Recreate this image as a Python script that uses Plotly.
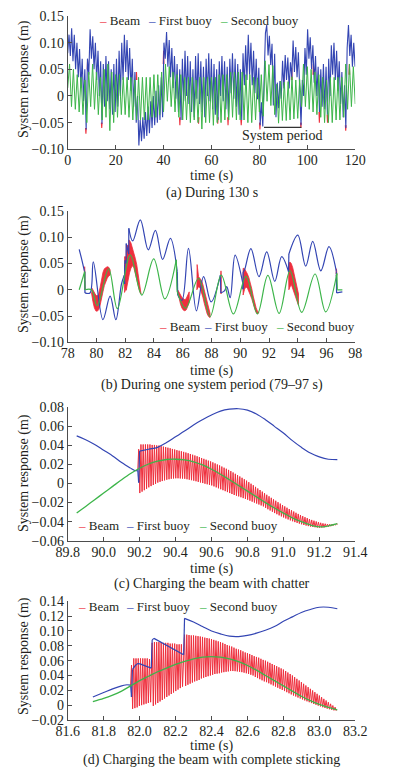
import numpy as np
import plotly.graph_objects as go

# =========================== DATA ===========================
# ---- (a) During 130 s : samples at alternating peaks / troughs ----
GREEN_A_T0, GREEN_A_DT = 0.78, 0.8       # second buoy sample times: 0.78, 1.58, ...
green_a_first = 0.015                     # second buoy value at t = 0
green_a = [
    0.060, -0.020, 0.050, -0.025, 0.040, -0.030, 0.035, -0.035, 0.030, -0.050,
    0.045, -0.020, 0.060, -0.025, 0.045, -0.035, 0.035, -0.045, 0.050, -0.040,
    0.060, -0.065, 0.045, -0.050, 0.040, -0.040, 0.040, -0.035, 0.035, -0.035,
    0.035, -0.040, 0.035, -0.045, 0.030, -0.045, 0.035, -0.045, 0.035, -0.045,
    0.035, -0.045, 0.035, -0.040, 0.040, -0.040, 0.040, -0.035, 0.045, -0.030,
    0.060, -0.010, 0.055, -0.020, 0.045, -0.030, 0.040, -0.040, 0.040, -0.045,
    0.035, -0.045, 0.035, -0.050, 0.035, -0.045, 0.030, -0.050, 0.035, -0.062,
    0.035, -0.050, 0.035, -0.050, 0.035, -0.055, 0.035, -0.050, 0.040, -0.050,
    0.040, -0.045, 0.040, -0.045, 0.045, -0.040, 0.045, -0.045, 0.045, -0.045,
    0.045, -0.045, 0.040, -0.050, 0.040, -0.050, 0.035, -0.045, 0.034, -0.030,
    0.040, -0.038, 0.066, -0.010, 0.059, -0.018, 0.057, -0.035, 0.022, -0.051,
    0.028, -0.046, 0.026, -0.046, 0.027, -0.045, 0.036, -0.043, 0.030, -0.042,
    0.031, -0.020, 0.060, -0.020, 0.055, -0.025, 0.050, -0.030, 0.045, -0.035,
    0.040, -0.040, 0.035, -0.050, 0.030, -0.050, 0.035, -0.050, 0.035, -0.045,
    0.035, -0.045, 0.035, -0.040, 0.060, -0.025, 0.060, -0.020, 0.055, -0.015,
]
BLUE_A_DT = 0.55                          # first buoy sample times: 0, 0.55, 1.10, ...
blue_a = [
    0.080, 0.115, 0.075, 0.127, 0.065, 0.115, 0.050, 0.100, 0.035, 0.088,
    0.015, 0.070, -0.010, 0.050, -0.063, 0.070, 0.040, 0.125, 0.070, 0.112,
    0.050, 0.100, 0.030, 0.085, 0.000, 0.065, -0.052, 0.060, -0.020, 0.075,
    -0.010, 0.065, -0.025, 0.050, -0.035, 0.060, -0.030, 0.070, -0.020, 0.085,
    0.000, 0.100, 0.030, 0.115, 0.045, 0.105, 0.030, 0.090, 0.010, 0.070,
    -0.020, 0.045, -0.050, 0.000, -0.093, -0.045, -0.085, -0.040, -0.080, -0.030,
    -0.075, -0.020, -0.070, -0.010, -0.060, 0.000, -0.055, 0.010, -0.050, 0.020,
    -0.045, 0.035, -0.040, 0.100, 0.070, 0.120, 0.055, 0.105, 0.035, 0.090,
    0.015, 0.075, -0.005, 0.060, -0.030, 0.050, -0.045, 0.070, -0.010, 0.085,
    0.000, 0.075, -0.015, 0.065, -0.030, 0.050, -0.040, 0.075, -0.005, 0.080,
    -0.015, 0.065, -0.030, 0.055, -0.040, 0.070, 0.000, 0.080, -0.010, 0.070,
    -0.025, 0.060, -0.035, 0.050, -0.045, 0.065, 0.000, 0.075, -0.010, 0.065,
    -0.025, 0.055, -0.040, 0.070, 0.005, 0.080, -0.005, 0.070, -0.020, 0.060,
    -0.035, 0.050, -0.045, 0.080, 0.020, 0.095, 0.030, 0.115, 0.040, 0.100,
    0.020, 0.085, 0.005, 0.070, -0.006, 0.053, -0.055, -0.012, -0.057, 0.030,
    0.118, 0.133, 0.076, 0.113, 0.058, 0.098, -0.018, 0.079, -0.040, 0.025,
    -0.023, 0.028, -0.005, 0.066, 0.014, 0.077, 0.030, 0.072, 0.014, 0.063,
    0.035, 0.104, 0.045, 0.092, 0.035, 0.082, -0.006, -0.055, 0.030, 0.000,
    0.090, 0.040, 0.125, 0.070, 0.110, 0.050, 0.095, 0.025, 0.075, 0.000,
    0.055, -0.030, 0.050, -0.020, 0.060, -0.025, 0.055, -0.035, 0.070, 0.000,
    0.095, 0.040, 0.100, 0.030, 0.085, 0.010, 0.065, -0.015, 0.045, -0.040,
    0.020, -0.060, 0.090, 0.133, 0.075, 0.115, 0.055, 0.100, 0.055,
]
# beam excursions visible beyond the buoy curves: time, base value, tip value
beam_a_t    = [7.6, 8.3, 14.2, 28.7, 40.0, 46.8, 54.6, 62.6, 66.9, 72.4, 80.2, 90.2, 93.5, 97.3, 102.5, 105.0, 108.4, 116.0, 117.5]
beam_a_base = [-0.060, 0.050, -0.050, 0.030, 0.060, -0.040, -0.040, -0.040, -0.040, -0.045, -0.050, 0.020, 0.030, -0.050, 0.040, -0.030, -0.035, -0.055, 0.040]
beam_a_tip  = [-0.071, 0.068, -0.060, 0.045, 0.085, -0.055, -0.052, -0.052, -0.055, -0.055, -0.063, 0.040, 0.052, -0.060, 0.060, -0.050, -0.050, -0.065, 0.060]

# ---- (b) During one system period (79-97 s) ----
green_b_t = [78.8, 79.18, 79.2, 79.65, 80.05, 80.85, 81.45, 82.35, 83.15, 83.98, 84.75, 85.55, 85.6, 86.2,
             87.1, 87.9, 88.68, 89.52, 90.4, 91.19, 91.92, 92.7, 93.46, 94.27, 95.2, 95.94, 96.72, 96.75, 97.1]
green_b_v = [0.0, 0.0345, 0.0, 0.0, -0.030, 0.040, -0.036, 0.066, -0.010, 0.059, -0.0175, 0.057, -0.002, -0.035,
             0.022, -0.051, 0.028, -0.046, 0.0255, -0.0458, 0.0275, -0.045, 0.036, -0.043, 0.030, -0.042, 0.031, 0.0, 0.0]
blue_b_t = [78.8, 79.0, 79.15, 79.19, 79.2, 79.55, 79.78, 80.45, 80.95, 81.35, 81.74, 81.93, 81.955, 81.96,
            81.99, 82.065, 82.07, 82.245, 82.25, 82.52, 83.05, 83.6, 84.1, 84.6, 85.14, 85.62, 85.65, 85.95,
            86.4, 86.95, 87.45, 87.97, 88.62, 88.65, 88.9, 89.06, 89.3, 89.64, 90.17, 90.19, 90.2, 90.3,
            90.74, 91.3, 91.84, 92.4, 92.88, 93.36, 93.38, 94.0, 94.55, 95.04, 95.6, 96.17, 96.68, 96.7, 97.1]
blue_b_v = [0.077, 0.055, 0.037, 0.034, -0.006, -0.006, 0.053, -0.057, -0.012, -0.057, 0.011, 0.0275, 0.011, 0.048,
            0.056, 0.050, 0.088, 0.068, 0.117, 0.093, 0.133, 0.076, 0.113, 0.058, 0.098, 0.034, -0.010, -0.020,
            0.079, -0.040, 0.025, -0.023, 0.028, -0.006, -0.002, 0.006, -0.015, 0.066, 0.0135, 0.001, 0.034, 0.038,
            0.0785, 0.025, 0.072, 0.016, 0.063, 0.034, 0.068, 0.104, 0.045, 0.092, 0.036, 0.082, 0.035, -0.006, -0.004]
# beam chatter bands: (times, upper envelope, lower envelope)
beam_b_bands = [
    ([79.15, 79.18, 79.2], [0.033, 0.044, 0.034], [0.030, 0.030, 0.0]),
    ([79.65, 79.75, 79.85, 79.95, 80.05, 80.15, 80.25, 80.35, 80.45, 80.55, 80.65, 80.75, 80.85, 80.95],
     [0.005, 0.0, -0.006, -0.010, -0.012, -0.008, 0.004, 0.020, 0.033, 0.040, 0.043, 0.044, 0.043, 0.038],
     [-0.005, -0.022, -0.034, -0.040, -0.041, -0.038, -0.030, -0.018, -0.004, 0.008, 0.016, 0.022, 0.026, 0.028]),
    ([81.95, 81.955, 82.065, 82.07, 82.245, 82.25, 82.3, 82.4, 82.5, 82.6, 82.7, 82.8, 82.9, 83.0, 83.1],
     [0.027, 0.063, 0.063, 0.085, 0.084, 0.095, 0.094, 0.089, 0.080, 0.070, 0.060, 0.048, 0.031, 0.013, -0.005],
     [0.027, -0.005, 0.004, -0.001, 0.025, 0.026, 0.032, 0.041, 0.046, 0.042, 0.031, 0.019, 0.007, -0.003, -0.008]),
    ([85.65, 85.75, 85.85, 85.95, 86.05, 86.15, 86.25, 86.35, 86.45],
     [0.0, -0.004, -0.010, -0.015, -0.018, -0.019, -0.016, -0.010, -0.004],
     [-0.004, -0.016, -0.028, -0.035, -0.039, -0.040, -0.038, -0.032, -0.024]),
    ([86.98, 87.0, 87.1, 87.2, 87.3, 87.4, 87.5, 87.6, 87.7, 87.8, 87.9],
     [0.0, 0.048, 0.025, 0.022, 0.018, 0.010, 0.0, -0.012, -0.025, -0.035, -0.045],
     [0.0, 0.0, 0.006, 0.004, -0.004, -0.014, -0.026, -0.037, -0.046, -0.051, -0.053]),
    ([88.64, 88.66, 88.68], [0.028, 0.036, 0.028], [0.020, -0.008, 0.020]),
    ([90.19, 90.2, 90.3, 90.4, 90.5, 90.6, 90.7, 90.8, 90.9, 91.0, 91.1, 91.2, 91.3],
     [0.0145, 0.041, 0.040, 0.0355, 0.030, 0.023, 0.014, 0.002, -0.012, -0.0243, -0.0342, -0.0412, -0.0424],
     [0.0145, -0.010, 0.001, 0.0055, 0.003, -0.002, -0.010, -0.017, -0.025, -0.0356, -0.0428, -0.0463, -0.0427]),
    ([93.36, 93.38, 93.45, 93.55, 93.65, 93.75, 93.85, 93.95, 94.05],
     [0.034, 0.050, 0.053, 0.050, 0.042, 0.030, 0.018, 0.005, -0.008],
     [0.034, 0.0, 0.005, 0.010, 0.006, -0.004, -0.014, -0.022, -0.030]),
    ([96.66, 96.69, 96.72], [0.030, 0.040, 0.030], [0.028, 0.025, 0.030]),
]

# ---- (c) Charging the beam with chatter ----
green_c_t = [89.85, 89.9, 89.95, 90.0, 90.05, 90.1, 90.15, 90.2, 90.25, 90.3, 90.35, 90.4, 90.45, 90.5, 90.55,
             90.6, 90.65, 90.7, 90.75, 90.8, 90.85, 90.9, 90.95, 91.0, 91.05, 91.1, 91.15, 91.2, 91.25, 91.3]
green_c_v = [-0.031, -0.024, -0.017, -0.010, -0.003, 0.004, 0.0105, 0.016, 0.0205, 0.0235, 0.0252, 0.0255, 0.0248,
             0.0228, 0.0195, 0.015, 0.0098, 0.004, -0.002, -0.008, -0.014, -0.020, -0.0257, -0.031, -0.036, -0.040,
             -0.0435, -0.0455, -0.0445, -0.0422]
blue_c_t = [89.85, 89.9, 89.95, 90.0, 90.05, 90.1, 90.15, 90.175, 90.19, 90.195, 90.2, 90.25, 90.3, 90.35, 90.4,
            90.45, 90.5, 90.55, 90.6, 90.65, 90.7, 90.75, 90.8, 90.85, 90.9, 90.95, 91.0, 91.05, 91.1, 91.15,
            91.2, 91.25, 91.3]
blue_c_v = [0.050, 0.046, 0.041, 0.035, 0.029, 0.022, 0.016, 0.0135, 0.0135, 0.001, 0.034, 0.036, 0.038, 0.043,
            0.049, 0.055, 0.0615, 0.067, 0.072, 0.076, 0.078, 0.0785, 0.077, 0.073, 0.067, 0.060, 0.053, 0.045,
            0.038, 0.032, 0.028, 0.0255, 0.025]
BEAM_C_START, BEAM_C_PERIOD = 90.195, 0.0125
beam_c_start_value = 0.0145
beam_c_top = [
    0.036, 0.041, 0.041, 0.041, 0.041, 0.041, 0.0405, 0.0405, 0.0400, 0.0398,
    0.0392, 0.0387, 0.0382, 0.0376, 0.0370, 0.0363, 0.0357, 0.0350, 0.0344, 0.0338,
    0.0332, 0.0325, 0.0318, 0.0310, 0.0302, 0.0294, 0.0286, 0.0277, 0.0268, 0.0259,
    0.0250, 0.0240, 0.0232, 0.0222, 0.0211, 0.0200, 0.0190, 0.0178, 0.0166, 0.0155,
    0.0143, 0.0130, 0.0116, 0.0102, 0.0088, 0.0074, 0.0060, 0.0045, 0.0030, 0.0014,
    -0.0002, -0.0018, -0.0035, -0.0052, -0.0068, -0.0085, -0.0102, -0.0118, -0.0134, -0.0150,
    -0.0166, -0.0181, -0.0196, -0.0211, -0.0226, -0.0240, -0.0254, -0.0268, -0.0281, -0.0294,
    -0.0307, -0.0319, -0.0331, -0.0342, -0.0353, -0.0363, -0.0373, -0.0382, -0.0390, -0.0398,
    -0.0405, -0.0412, -0.0418, -0.0422, -0.0426, -0.0428, -0.0428, -0.0427, -0.0424,
]
beam_c_bottom = [
    -0.0100, -0.0085, -0.0070, -0.0055, -0.0040, -0.0027, -0.0015, -0.0003, 0.0010, 0.0018,
    0.0026, 0.0033, 0.0040, 0.0045, 0.0050, 0.0053, 0.0055, 0.0055, 0.0053, 0.0052,
    0.0050, 0.0045, 0.0040, 0.0035, 0.0030, 0.0024, 0.0017, 0.0011, 0.0005, -0.0002,
    -0.0008, -0.0014, -0.0020, -0.0030, -0.0040, -0.0050, -0.0060, -0.0070, -0.0080, -0.0090,
    -0.0100, -0.0110, -0.0120, -0.0128, -0.0135, -0.0144, -0.0153, -0.0162, -0.0170, -0.0180,
    -0.0190, -0.0200, -0.0210, -0.0220, -0.0230, -0.0240, -0.0255, -0.0270, -0.0283, -0.0296,
    -0.0310, -0.0322, -0.0334, -0.0345, -0.0356, -0.0367, -0.0377, -0.0387, -0.0396, -0.0405,
    -0.0413, -0.0421, -0.0428, -0.0435, -0.0441, -0.0447, -0.0452, -0.0456, -0.0459, -0.0462,
    -0.0463, -0.0462, -0.0460, -0.0457, -0.0453, -0.0448, -0.0442, -0.0435, -0.0427,
]

# ---- (d) Charging the beam with complete sticking ----
green_d_t = [81.74, 81.8, 81.85, 81.9, 81.95, 82.0, 82.05, 82.1, 82.15, 82.2, 82.25, 82.3, 82.35, 82.4, 82.45,
             82.5, 82.55, 82.6, 82.65, 82.7, 82.75, 82.8, 82.85, 82.9, 82.95, 83.0, 83.05, 83.1]
green_d_v = [0.0047, 0.009, 0.0135, 0.019, 0.026, 0.033, 0.039, 0.045, 0.050, 0.055, 0.059, 0.0625, 0.0648, 0.0655,
             0.0648, 0.0625, 0.0588, 0.0535, 0.0472, 0.040, 0.033, 0.026, 0.019, 0.012, 0.006, 0.001, -0.003, -0.0062]
blue_d_t = [81.74, 81.8, 81.85, 81.9, 81.93, 81.95, 81.955, 81.96, 81.99, 82.02, 82.065, 82.07, 82.08, 82.245,
            82.25, 82.3, 82.35, 82.4, 82.45, 82.5, 82.55, 82.6, 82.65, 82.7, 82.75, 82.8, 82.85, 82.9, 82.95,
            83.0, 83.05, 83.1]
blue_d_v = [0.011, 0.017, 0.022, 0.026, 0.0275, 0.027, 0.011, 0.048, 0.056, 0.054, 0.050, 0.088, 0.090, 0.068,
            0.117, 0.112, 0.106, 0.100, 0.096, 0.093, 0.0925, 0.094, 0.097, 0.101, 0.106, 0.113, 0.119, 0.125,
            0.129, 0.132, 0.132, 0.130]
BEAM_D_PERIOD = 0.0125
beam_d_start = (81.95, 0.027)
beam_d_group_starts = [81.955, 82.07, 82.25]
beam_d_tops = [
    [0.054, 0.063, 0.063, 0.063, 0.063, 0.063, 0.063, 0.063, 0.062],
    [0.084, 0.085, 0.085, 0.085, 0.085, 0.084, 0.084, 0.084, 0.083, 0.083, 0.083, 0.082, 0.082, 0.082],
    [0.095, 0.095, 0.0945, 0.094, 0.094, 0.0935, 0.093, 0.0925, 0.092, 0.091,
     0.0905, 0.0898, 0.089, 0.088, 0.087, 0.086, 0.085, 0.084, 0.0825, 0.081,
     0.080, 0.079, 0.0775, 0.076, 0.075, 0.074, 0.0725, 0.071, 0.070, 0.069,
     0.0675, 0.066, 0.065, 0.064, 0.0625, 0.061, 0.060, 0.0585, 0.057, 0.0555,
     0.054, 0.0525, 0.051, 0.0495, 0.048, 0.046, 0.044, 0.042, 0.040, 0.0378,
     0.0355, 0.0333, 0.031, 0.0288, 0.0265, 0.0243, 0.022, 0.0198, 0.0175, 0.0153,
     0.013, 0.0108, 0.0085, 0.0063, 0.004, 0.0018, -0.0005, -0.0027],
]
beam_d_bottoms = [
    [-0.005, -0.004, -0.003, -0.001, 0.000, 0.001, 0.002, 0.003, 0.004],
    [-0.001, 0.001, 0.003, 0.005, 0.007, 0.009, 0.011, 0.013, 0.015, 0.017, 0.019, 0.021, 0.023, 0.025],
    [0.026, 0.0275, 0.029, 0.0305, 0.032, 0.033, 0.034, 0.036, 0.037, 0.038,
     0.039, 0.040, 0.041, 0.042, 0.0425, 0.043, 0.044, 0.0445, 0.045, 0.0455,
     0.046, 0.046, 0.0458, 0.0455, 0.045, 0.0445, 0.0438, 0.043, 0.042, 0.041,
     0.040, 0.038, 0.0365, 0.035, 0.0335, 0.032, 0.031, 0.0295, 0.028, 0.0265,
     0.025, 0.0235, 0.022, 0.0205, 0.019, 0.0175, 0.016, 0.0145, 0.013, 0.0117,
     0.0103, 0.009, 0.0077, 0.0064, 0.0052, 0.004, 0.0028, 0.0016, 0.0005, -0.0006,
     -0.0017, -0.0028, -0.0038, -0.0047, -0.0055, -0.0063, -0.007, -0.0076],
]

# ---- axes / labels ----
x_ticks = {
    "a": [0, 20, 40, 60, 80, 100, 120],
    "b": [78, 80, 82, 84, 86, 88, 90, 92, 94, 96, 98],
    "c": [89.8, 90.0, 90.2, 90.4, 90.6, 90.8, 91.0, 91.2, 91.4],
    "d": [81.6, 81.8, 82.0, 82.2, 82.4, 82.6, 82.8, 83.0, 83.2],
}
x_ticktext = {
    "a": ["0", "20", "40", "60", "80", "100", "120"],
    "b": ["78", "80", "82", "84", "86", "88", "90", "92", "94", "96", "98"],
    "c": ["89.8", "90.0", "90.2", "90.4", "90.6", "90.8", "91.0", "91.2", "91.4"],
    "d": ["81.6", "81.8", "82.0", "82.2", "82.4", "82.6", "82.8", "83.0", "83.2"],
}
y_ticks = {
    "a": [-0.10, -0.05, 0, 0.05, 0.10, 0.15],
    "b": [-0.10, -0.05, 0, 0.05, 0.10, 0.15],
    "c": [-0.06, -0.04, -0.02, 0, 0.02, 0.04, 0.06, 0.08],
    "d": [-0.02, 0, 0.02, 0.04, 0.06, 0.08, 0.10, 0.12, 0.14],
}
y_ticktext = {
    "a": ["\u22120.10", "\u22120.05", "0", "0.05", "0.10", "0.15"],
    "b": ["\u22120.10", "\u22120.05", "0", "0.05", "0.10", "0.15"],
    "c": ["\u22120.06", "\u22120.04", "\u22120.02", "0", "0.02", "0.04", "0.06", "0.08"],
    "d": ["\u22120.02", "0", "0.02", "0.04", "0.06", "0.08", "0.10", "0.12", "0.14"],
}
x_ranges = {"a": [0, 120], "b": [78, 98], "c": [89.8, 91.4], "d": [81.6, 83.2]}
y_ranges = {"a": [-0.10, 0.15], "b": [-0.10, 0.15], "c": [-0.06, 0.08], "d": [-0.02, 0.14]}
captions = {
    "a": "(a) During 130 s",
    "b": "(b) During one system period (79\u201397 s)",
    "c": "(c) Charging the beam with chatter",
    "d": "(d) Charging the beam with complete sticking",
}
series_names = ["Beam", "First buoy", "Second buoy"]
y_title = "System response (m)"
x_title = "time (s)"
period_label = "System period"
period_span = (81.9, 97.5, -0.0587)
period_label_y = -0.0744

# =========================== STYLE / LAYOUT ===========================
PAGE_MARGIN = 8                      # default body margin of the html page
W, H = 394 - 2 * PAGE_MARGIN, 775 - 2 * PAGE_MARGIN
RED, BLUE, GREEN = "#ee2f3d", "#3345b3", "#3db54a"
AXC, TXT = "#4d4d4d", "#231f20"
FONT = "Liberation Serif, serif"


def px_x(px):  # window pixel -> paper fraction
    return (px - PAGE_MARGIN) / W


def px_y(py):
    return 1 - (py - PAGE_MARGIN) / H


# pixel geometry of each panel in the window
geom = {
    "a": dict(yt=16.0, yb=149.3, title=175.5, cap=192.5, ytc=79, leg=(20, [97, 146, 218])),
    "b": dict(yt=211.0, yb=342.3, title=370.5, cap=385, ytc=274, leg=(326, [157, 202, 274])),
    "c": dict(yt=407.3, yb=540.7, title=568.5, cap=583.5, ytc=473, leg=(525, [76, 124, 197])),
    "d": dict(yt=601.3, yb=720.0, title=746.0, cap=760.0, ytc=656, leg=(606.7, [76, 124, 197])),
}
X0, X1 = 67.7, 355.3
axid = {"a": "", "b": "2", "c": "3", "d": "4"}

fig = go.Figure()


def line(p, x, y, color, width=1.2, shape="linear", fill=None):
    fig.add_trace(go.Scatter(
        x=x, y=y, mode="lines", xaxis="x" + axid[p], yaxis="y" + axid[p],
        line=dict(color=color, width=width, shape=shape),
        fill=fill, fillcolor=color if fill else None,
        showlegend=False, hoverinfo="skip", connectgaps=False))


def smooth_with_jumps(p, t, v, color, width, jump_dt):
    """Smooth curve; near-vertical jumps (closely spaced samples) drawn straight."""
    sx, sy, jx, jy = [t[0]], [v[0]], [], []
    for i in range(1, len(t)):
        if t[i] - t[i - 1] <= jump_dt:
            sx.append(None); sy.append(None)
            jx += [t[i - 1], t[i], None]; jy += [v[i - 1], v[i], None]
        sx.append(t[i]); sy.append(v[i])
    line(p, jx, jy, color, width)
    line(p, sx, sy, color, width, shape="spline")


# ---- (a) ----
ta_b = [i * BLUE_A_DT for i in range(len(blue_a))]
ta_g = [0.0] + [GREEN_A_T0 + i * GREEN_A_DT for i in range(len(green_a))]
sx, sy = [], []
for t, b, tip in zip(beam_a_t, beam_a_base, beam_a_tip):
    sx += [t - 0.15, t, t + 0.15, None]
    sy += [b, tip, b, None]
line("a", sx, sy, RED, 1.1)
line("a", ta_b, blue_a, BLUE, 1.1)
line("a", ta_g, [green_a_first] + green_a, GREEN, 1.0)

# ---- (b) ----
bx, by = [], []
for tt, up, lo in beam_b_bands:
    bx += list(tt) + list(tt[::-1]) + [None]
    by += list(up) + list(lo[::-1]) + [None]
line("b", bx, by, RED, 0.8, fill="toself")
smooth_with_jumps("b", blue_b_t, blue_b_v, BLUE, 1.2, 0.06)
smooth_with_jumps("b", green_b_t, green_b_v, GREEN, 1.2, 0.06)

# ---- (c) ----
cx, cy = [BEAM_C_START - 0.005], [beam_c_start_value]
for i, (tp, bt) in enumerate(zip(beam_c_top, beam_c_bottom)):
    t0 = BEAM_C_START + i * BEAM_C_PERIOD
    cx += [t0, t0 + BEAM_C_PERIOD / 2]
    cy += [tp, bt]
line("c", cx, cy, RED, 1.0)
smooth_with_jumps("c", blue_c_t, blue_c_v, BLUE, 1.2, 0.03)
line("c", green_c_t, green_c_v, GREEN, 1.3, shape="spline")

# ---- (d) ----
dx, dy = [beam_d_start[0]], [beam_d_start[1]]
for g0, tops, bots in zip(beam_d_group_starts, beam_d_tops, beam_d_bottoms):
    for i, (tp, bt) in enumerate(zip(tops, bots)):
        t0 = g0 + i * BEAM_D_PERIOD
        dx += [t0, t0 + BEAM_D_PERIOD / 2]
        dy += [tp, bt]
line("d", dx, dy, RED, 1.0)
smooth_with_jumps("d", blue_d_t, blue_d_v, BLUE, 1.2, 0.03)
line("d", green_d_t, green_d_v, GREEN, 1.3, shape="spline")

# ---- axes & texts ----
layout = dict(width=W, height=H, margin=dict(l=0, r=0, t=0, b=0), autosize=False,
              paper_bgcolor="white", plot_bgcolor="white", showlegend=False)
annotations, shapes = [], []
xc = px_x((X0 + X1) / 2)
for p in "abcd":
    g = geom[p]
    common = dict(showline=True, linecolor=AXC, linewidth=1, ticks="inside", ticklen=4,
                  tickcolor=AXC, tickwidth=1, showgrid=False, zeroline=False, mirror=False,
                  tickfont=dict(family=FONT, size=14, color=TXT), tickmode="array", automargin=False)
    layout["xaxis" + axid[p]] = dict(domain=[px_x(X0), px_x(X1)], anchor="y" + axid[p], range=x_ranges[p],
                                     tickvals=x_ticks[p], ticktext=x_ticktext[p],
                                     ticklabelstandoff=-2, **common)
    layout["yaxis" + axid[p]] = dict(domain=[px_y(g["yb"]), px_y(g["yt"])], anchor="x" + axid[p],
                                     range=y_ranges[p], tickvals=y_ticks[p], ticktext=y_ticktext[p], **common)
    txt = dict(xref="paper", yref="paper", showarrow=False, xanchor="center", yanchor="middle",
               font=dict(family=FONT, size=14, color=TXT))
    annotations.append(dict(text=x_title, x=xc, y=px_y(g["title"]), **txt))
    annotations.append(dict(text=captions[p], x=xc, y=px_y(g["cap"]), **txt))
    annotations.append(dict(text=y_title, x=px_x(24), y=px_y(g["ytc"]), textangle=-90, **txt))
    ly, lxs = g["leg"]
    for name, col, lx in zip(series_names, [RED, BLUE, GREEN], lxs):
        annotations.append(dict(text=f"<span style='color:{col}'>\u2013</span> {name}",
                                x=px_x(lx), y=px_y(ly), xref="paper", yref="paper",
                                xanchor="left", yanchor="middle", showarrow=False,
                                font=dict(family=FONT, size=13, color=TXT)))

shapes.append(dict(type="line", xref="x", yref="y", x0=period_span[0], x1=period_span[1],
                   y0=period_span[2], y1=period_span[2], line=dict(color="#333333", width=1.3)))
annotations.append(dict(text=period_label, x=(period_span[0] + period_span[1]) / 2, y=period_label_y,
                        xref="x", yref="y", showarrow=False, xanchor="center", yanchor="middle",
                        font=dict(family=FONT, size=14, color=TXT)))
layout["annotations"] = annotations
layout["shapes"] = shapes
fig.update_layout(**layout)

fig.write_html("out.html", config={"displayModeBar": False, "responsive": False})
